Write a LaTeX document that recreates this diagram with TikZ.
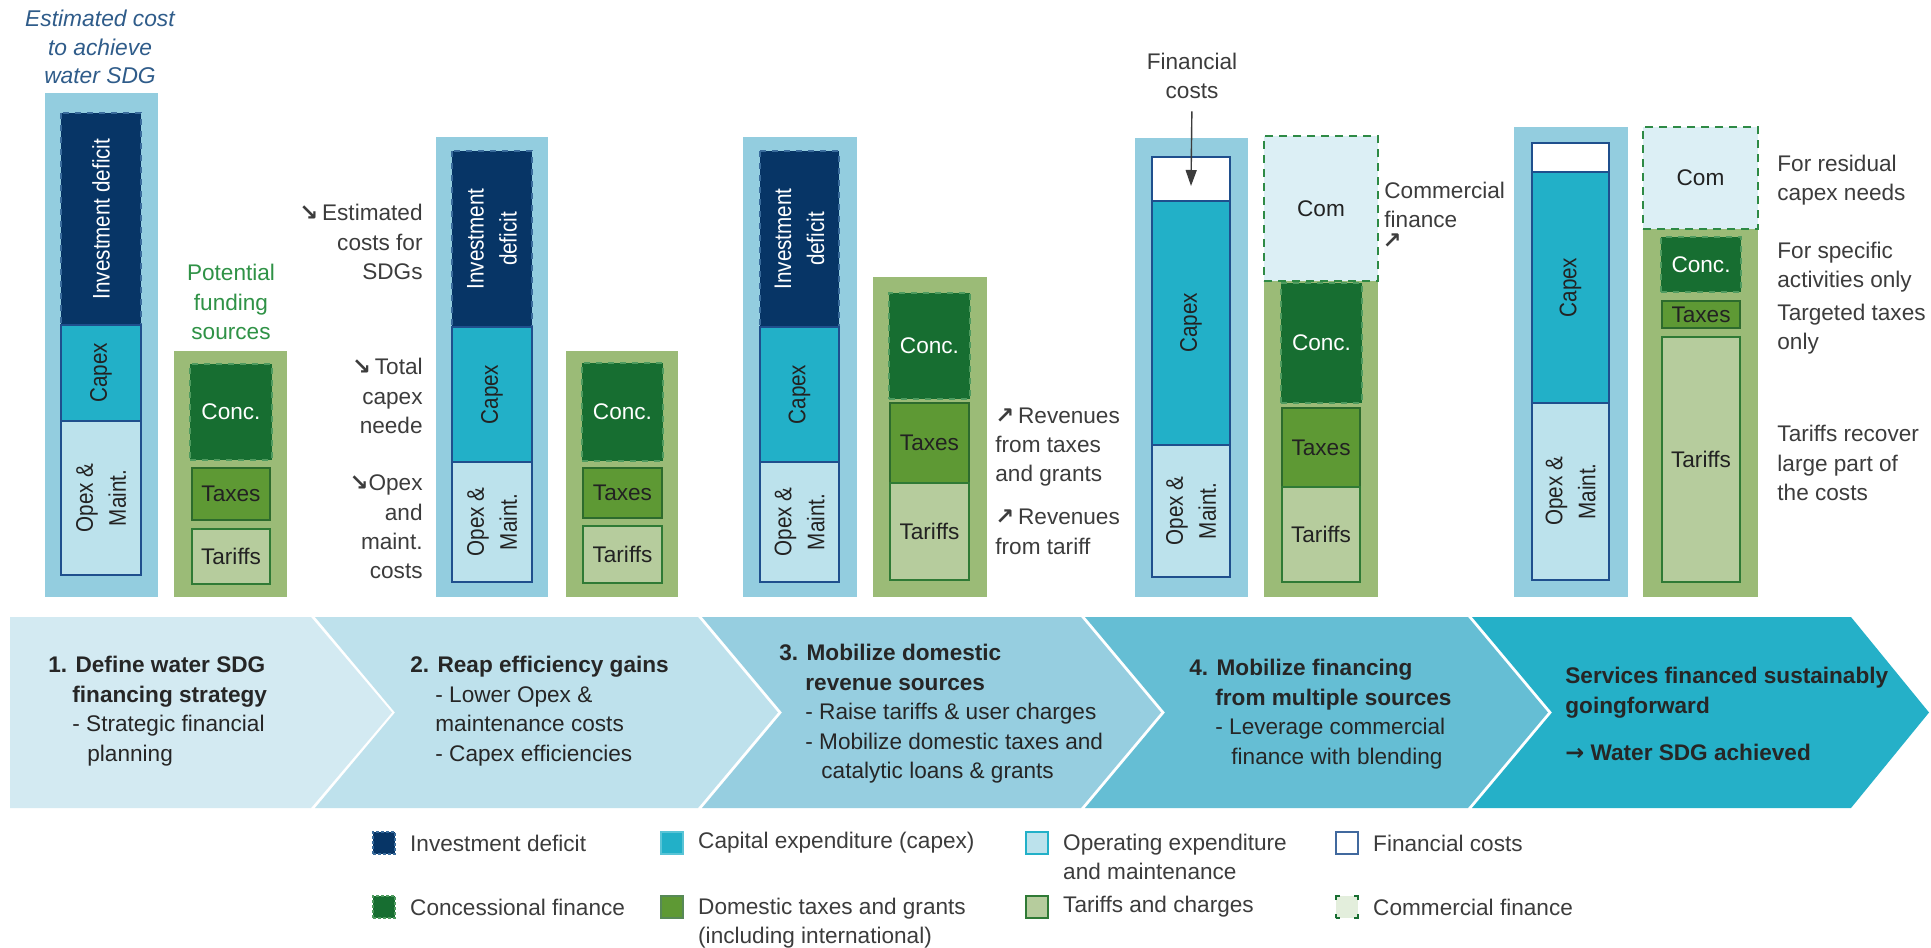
\documentclass[tikz,border=0pt]{standalone}
\usepackage{fontspec}
\setmainfont{Liberation Sans}
\newfontfamily\rotfont[FakeStretch=0.86]{Liberation Sans}
\newfontfamily\symfont{DejaVu Sans}
\usepackage{tikz}
\usetikzlibrary{
  positioning,
  arrows.meta,
  calc,
}
\definecolor{cColBg}   {HTML}{93CDDF}
\definecolor{cInv}     {HTML}{073566}
\definecolor{cInvLine} {HTML}{3A6C9C}
\definecolor{cCapex}   {HTML}{22B0C8}
\definecolor{cOpex}    {HTML}{BCE2EC}
\definecolor{cBar}     {HTML}{1F4F8D}
\definecolor{cFundBg}  {HTML}{9BBB77}
\definecolor{cConc}    {HTML}{176E31}
\definecolor{cConcLine}{HTML}{4F9B5F}
\definecolor{cTax}     {HTML}{5E9934}
\definecolor{cTaxLine} {HTML}{2D6B2D}
\definecolor{cTar}     {HTML}{B6CC9D}
\definecolor{cTarLine} {HTML}{2F7A35}
\definecolor{cCom}     {HTML}{DCEFF5}
\definecolor{cComLine} {HTML}{2E8A45}
\definecolor{cLegCom}  {HTML}{E3EEDC}
\definecolor{cNote}    {HTML}{3C3C3C}
\definecolor{cInk}     {HTML}{222222}
\definecolor{cTitle}   {HTML}{2F5C8A}
\definecolor{cFund}    {HTML}{2F9246}
\definecolor{cStepA}   {HTML}{D3EAF2}
\definecolor{cStepB}   {HTML}{BEE1EC}
\definecolor{cStepC}   {HTML}{96CEE0}
\definecolor{cStepD}   {HTML}{65BED4}
\definecolor{cStepE}   {HTML}{25B0C8}
\definecolor{cStepTxt} {HTML}{262626}

\begin{document}
\begin{tikzpicture}[
  x=0.5pt, y=-0.5pt,
  font=\fontsize{11.3}{14.7}\selectfont,
  every node/.style={text=cNote},
  %
  colbg/.style={fill=cColBg, inner sep=0pt, outer sep=0pt},
  fundbg/.style={fill=cFundBg, inner sep=0pt, outer sep=0pt},
  seg/.style={inner sep=0pt, outer sep=0pt, line width=0.9pt, align=center, text=cInk},
  rotseg/.style={seg, rotate=90, font=\rotfont\fontsize{12}{16.5}\selectfont},
  invbox/.style={rotseg, fill=cInv, draw=cInvLine, dashed, text=white},
  capbox/.style={rotseg, fill=cCapex, draw=cBar},
  opexbox/.style={rotseg, fill=cOpex, draw=cBar},
  finbox/.style={seg, fill=white, draw=cBar},
  concbox/.style={seg, fill=cConc, draw=cConcLine, dashed, text=white},
  taxbox/.style={seg, fill=cTax, draw=cTaxLine},
  tarbox/.style={seg, fill=cTar, draw=cTarLine},
  combox/.style={seg, fill=cCom, draw=cComLine, line width=1pt, dash pattern=on 4pt off 3pt},
  note/.style={inner sep=0pt, align=left, anchor=west},
  noteleft/.style={inner sep=0pt, align=right, anchor=east},
  stepbox/.style={inner sep=0pt, align=left, anchor=west, text=cStepTxt,
                  font=\fontsize{11.3}{14.75}\selectfont},
  legsq/.style={minimum size=11pt, inner sep=0pt, line width=0.8pt},
  leglbl/.style={inner sep=0pt, align=left},
  fcarrow/.style={-{Triangle[length=8pt, width=5.5pt]}, line width=0.7pt, draw=cNote},
]

\fill[white] (0,0) rectangle (1931,947);
\useasboundingbox (0,0) rectangle (1931,947);

% ────────────── STEP CHEVRONS (bottom band) ────────────────────────────────
\fill[cStepA] (10,617) -- (311,617) -- (392,712.5) -- (311,808) -- (10,808) -- cycle;
\fill[cStepB] (315,617) -- (698,617) -- (778,712.5) -- (698,808) -- (315,808) -- (395,712.5) -- cycle;
\fill[cStepC] (702,617) -- (1081,617) -- (1161,712.5) -- (1081,808) -- (702,808) -- (782,712.5) -- cycle;
\fill[cStepD] (1085,617) -- (1468,617) -- (1548,712.5) -- (1468,808) -- (1085,808) -- (1165,712.5) -- cycle;
\fill[cStepE] (1472,617) -- (1851,617) -- (1929,712.5) -- (1851,808) -- (1472,808) -- (1552,712.5) -- cycle;

\node[stepbox] (step1) at (48,711)
  {\textbf{1. Define water SDG}\\\hspace*{12pt}\textbf{financing strategy}\\
   \hspace*{12pt}- Strategic financial\\\hspace*{19.5pt}planning};
\node[stepbox] (step2) at (410,711)
  {\textbf{2. Reap efficiency gains}\\\hspace*{12.5pt}- Lower Opex \&\\
   \hspace*{12.5pt}maintenance costs\\\hspace*{12.5pt}- Capex efficiencies};
\node[stepbox] (step3) at (779,714)
  {\textbf{3. Mobilize domestic}\\\hspace*{13pt}\textbf{revenue sources}\\
   \hspace*{13pt}- Raise tariffs \& user charges\\
   \hspace*{13pt}- Mobilize domestic taxes and\\\hspace*{21pt}catalytic loans \& grants};
\node[stepbox] (step4) at (1189,714)
  {\textbf{4. Mobilize financing}\\\hspace*{13pt}\textbf{from multiple sources}\\
   \hspace*{13pt}- Leverage commercial\\\hspace*{21pt}finance with blending};
\node[stepbox] (step5) at (1565,714)
  {\textbf{Services financed sustainably}\\\textbf{goingforward}\\[9pt]
   \textbf{{\symfont →} Water SDG achieved}};

% ────────────── STAGE 1 — estimated cost + potential sources ──────────────
\node[inner sep=0pt, align=center, text=cTitle, font=\itshape\fontsize{11.4}{14.4}\selectfont]
     (sdgttl) at (100,47) {Estimated cost\\to achieve\\water SDG};
\node[colbg, minimum width=56.5pt, minimum height=252pt] (col1) at (101.5,345) {};
\node[invbox,  minimum width=106pt, minimum height=40pt] (inv1) at (101,219) {Investment deficit};
\node[capbox,  minimum width=48pt,  minimum height=40pt] (cap1) at (101,373) {Capex};
\node[opexbox, minimum width=77pt,  minimum height=40pt] (opx1) at (101,498) {Opex \&\\Maint.};

\node[inner sep=0pt, align=center, text=cFund] (fundttl) at (231,302) {Potential\\funding\\sources};
\node[fundbg, minimum width=56.5pt, minimum height=123pt] (fund1) at (230.5,474) {};
\node[concbox, minimum width=41pt, minimum height=48pt]   (conc1) at (231,412)   {Conc.};
\node[taxbox,  minimum width=39pt, minimum height=26pt]   (tax1)  at (231,494)   {Taxes};
\node[tarbox,  minimum width=39pt, minimum height=27.5pt] (tar1)  at (231,556.5) {Tariffs};

% ────────────── STAGE 2 — efficiency gains ─────────────────────────────────
\node[noteleft] (est2) at (423,242) {{\symfont\bfseries ↘}\,Estimated\\costs for\\SDGs};
\node[noteleft] (tot2) at (423,396) {{\symfont\bfseries ↘}\,Total\\capex\\neede};
\node[noteleft] (opn2) at (423,527) {{\symfont\bfseries ↘}Opex\\and\\maint.\\costs};

\node[colbg, minimum width=56pt, minimum height=230pt] (col2) at (492,367) {};
\node[invbox,  minimum width=88pt,   minimum height=40pt] (inv2) at (492,239)   {Investment\\deficit};
\node[capbox,  minimum width=67.5pt, minimum height=40pt] (cap2) at (492,394.5) {Capex};
\node[opexbox, minimum width=60pt,   minimum height=40pt] (opx2) at (492,522)   {Opex \&\\Maint.};

\node[fundbg, minimum width=56pt, minimum height=123pt] (fund2) at (622,474) {};
\node[concbox, minimum width=40.5pt, minimum height=49pt]   (conc2) at (622.5,412)   {Conc.};
\node[taxbox,  minimum width=39.5pt, minimum height=25pt]   (tax2)  at (622.5,493)   {Taxes};
\node[tarbox,  minimum width=39.5pt, minimum height=28.5pt] (tar2)  at (622.5,554.5) {Tariffs};

% ────────────── STAGE 3 — domestic revenue ─────────────────────────────────
\node[colbg, minimum width=57pt, minimum height=230pt] (col3) at (800,367) {};
\node[invbox,  minimum width=88pt,   minimum height=39.5pt] (inv3) at (799.5,239)   {Investment\\deficit};
\node[capbox,  minimum width=67.5pt, minimum height=39.5pt] (cap3) at (799.5,394.5) {Capex};
\node[opexbox, minimum width=60pt,   minimum height=39.5pt] (opx3) at (799.5,522)   {Opex \&\\Maint.};

\node[fundbg, minimum width=57pt, minimum height=160pt] (fund3) at (930,437) {};
\node[concbox, minimum width=40.5pt, minimum height=53pt]   (conc3) at (929.5,346)   {Conc.};
\node[taxbox,  minimum width=39.5pt, minimum height=40pt]   (tax3)  at (929.5,443)   {Taxes};
\node[tarbox,  minimum width=39.5pt, minimum height=48.5pt] (tar3)  at (929.5,531.5) {Tariffs};

\node[note] (rev3a) at (995,447) {{\symfont\bfseries ↗}\,Revenues\\from taxes\\and grants};
\node[note] (rev3b) at (995,532) {{\symfont\bfseries ↗}\,Revenues\\from tariff};

% ────────────── STAGE 4 — multiple sources ─────────────────────────────────
\node[inner sep=0pt, align=center] (fclbl) at (1192,76) {Financial\\costs};
\node[colbg, minimum width=56.5pt, minimum height=229.5pt] (col4) at (1191.5,367.5) {};
\node[finbox,  minimum width=39pt,  minimum height=22pt] (fin4) at (1191,179) {};
\node[capbox,  minimum width=122pt, minimum height=39pt] (cap4) at (1191,323) {Capex};
\node[opexbox, minimum width=66pt,  minimum height=39pt] (opx4) at (1191,511) {Opex \&\\Maint.};

\node[fundbg, minimum width=57pt, minimum height=158pt] (fund4) at (1321,439) {};
\node[combox,  minimum width=57pt,   minimum height=72.5pt] (com4)  at (1321,208.5)  {Com};
\node[concbox, minimum width=40.5pt, minimum height=60pt]   (conc4) at (1321.5,343)  {Conc.};
\node[taxbox,  minimum width=39pt,   minimum height=39.5pt] (tax4)  at (1321,447.5)  {Taxes};
\node[tarbox,  minimum width=39pt,   minimum height=47.5pt] (tar4)  at (1321,534.5)  {Tariffs};

\node[note] (comlbl) at (1384,205) {Commercial\\finance};
\node[inner sep=0pt] (comarr) at (1392,241) {\symfont\bfseries ↗};

\draw[fcarrow, shorten <=6pt] (fclbl.south) -- ($(fin4.south)+(0,-15)$);

% ────────────── STAGE 5 — financed sustainably ─────────────────────────────
\node[colbg, minimum width=57pt, minimum height=235pt] (col5) at (1571,362) {};
\node[finbox,  minimum width=38.5pt,  minimum height=14.5pt] (fin5) at (1570.5,157.5) {};
\node[capbox,  minimum width=115.5pt, minimum height=38.5pt] (cap5) at (1570.5,287.5) {Capex};
\node[opexbox, minimum width=88.5pt,  minimum height=38.5pt] (opx5) at (1570.5,491.5) {Opex \&\\Maint.};

\node[fundbg, minimum width=57.5pt, minimum height=184pt] (fund5) at (1700.5,413) {};
\node[combox,  minimum width=57.5pt, minimum height=51pt]    (com5)  at (1700.5,178)  {Com};
\node[concbox, minimum width=40pt,   minimum height=27.5pt]  (conc5) at (1701,264.5)  {Conc.};
\node[taxbox,  minimum width=39pt,   minimum height=13.5pt]  (tax5)  at (1701,314.5)  {Taxes};
\node[tarbox,  minimum width=39pt,   minimum height=122.5pt] (tar5)  at (1701,459.5)  {Tariffs};

\node[note] (res5) at (1777,180) {For residual\\capex needs};
\node[note] (spc5) at (1777,267) {For specific\\activities only};
\node[note] (tgt5) at (1777,329) {Targeted taxes\\only};
\node[note] (rcv5) at (1777,463) {Tariffs recover\\large part of\\the costs};

% ────────────── LEGEND ─────────────────────────────────────────────────────
\node[legsq, fill=cInv, draw=cInvLine, dash pattern=on 1.5pt off 1pt] (lsqinv) at (384,843) {};
\node[legsq, fill=cCapex, draw=cCapex!75!white]                       (lsqcap) at (672,843) {};
\node[legsq, fill=cOpex, draw=cCapex]                                  (lsqopx) at (1037,843) {};
\node[legsq, fill=white, draw=cBar!85]                                 (lsqfin) at (1347,843) {};
\node[legsq, fill=cConc, draw=cConcLine, dash pattern=on 1.5pt off 1pt] (lsqcnc) at (384,907) {};
\node[legsq, fill=cTax, draw=cTaxLine!80]                              (lsqtax) at (672,907) {};
\node[legsq, fill=cTar, draw=cTarLine]                                 (lsqtar) at (1037,907) {};
\node[legsq, fill=cLegCom, draw=cConc,
      dash pattern=on 2pt off 7pt on 2pt off 0pt]                      (lsqcom) at (1347,907) {};

\node[leglbl, right=7pt of lsqinv] (linv) {Investment deficit};
\node[leglbl, right=7pt of lsqcap] (lcap) {Capital expenditure (capex)};
\node[leglbl, right=7pt of lsqopx.north east, anchor=north west, yshift=-1.2pt]
     (lopx) {Operating expenditure\\and maintenance};
\node[leglbl, right=7pt of lsqfin] (lfin) {Financial costs};
\node[leglbl, right=7pt of lsqcnc] (lcnc) {Concessional finance};
\node[leglbl, right=7pt of lsqtax.north east, anchor=north west, yshift=-1.2pt]
     (ltax) {Domestic taxes and grants\\(including international)};
\node[leglbl, right=7pt of lsqtar] (ltar) {Tariffs and charges};
\node[leglbl, right=7pt of lsqcom] (lcom) {Commercial finance};

\end{tikzpicture}
\end{document}
